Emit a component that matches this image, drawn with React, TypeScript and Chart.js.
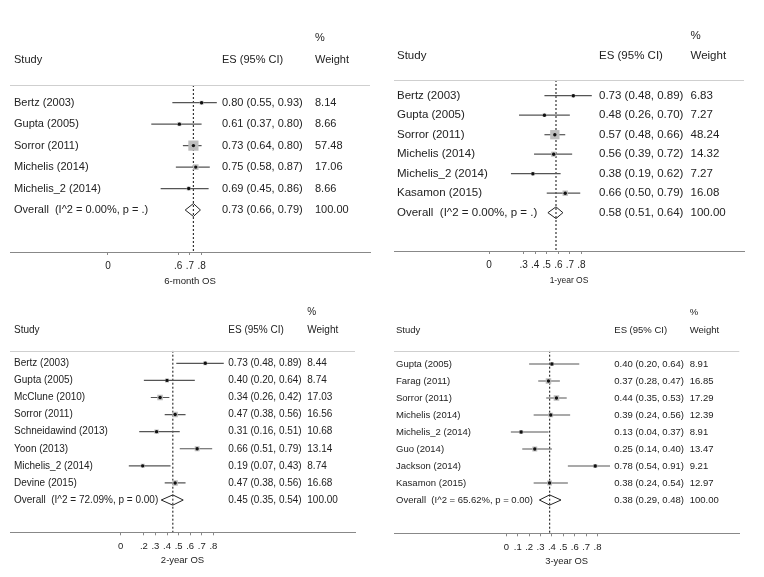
import React, { useEffect, useRef } from 'react';
import { Chart, registerables } from 'chart.js';

Chart.register(...registerables);

// ---------- 6-month OS ----------
const studies6m = ['Bertz (2003)', 'Gupta (2005)', 'Sorror (2011)', 'Michelis (2014)', 'Michelis_2 (2014)'];
const es6m = [0.8, 0.61, 0.73, 0.75, 0.69];
const lo6m = [0.55, 0.37, 0.64, 0.58, 0.45];
const hi6m = [0.93, 0.8, 0.8, 0.87, 0.86];
const wt6m = [8.14, 8.66, 57.48, 17.06, 8.66];
const overall6m = [0.73, 0.66, 0.79];
const overallLabel6m = 'Overall  (I^2 = 0.00%, p = .)';
const ticks6m = [0, 0.6, 0.7, 0.8];

// ---------- 1-year OS ----------
const studies1y = ['Bertz (2003)', 'Gupta (2005)', 'Sorror (2011)', 'Michelis (2014)', 'Michelis_2 (2014)', 'Kasamon (2015)'];
const es1y = [0.73, 0.48, 0.57, 0.56, 0.38, 0.66];
const lo1y = [0.48, 0.26, 0.48, 0.39, 0.19, 0.5];
const hi1y = [0.89, 0.7, 0.66, 0.72, 0.62, 0.79];
const wt1y = [6.83, 7.27, 48.24, 14.32, 7.27, 16.08];
const overall1y = [0.58, 0.51, 0.64];
const overallLabel1y = 'Overall  (I^2 = 0.00%, p = .)';
const ticks1y = [0, 0.3, 0.4, 0.5, 0.6, 0.7, 0.8];

// ---------- 2-year OS ----------
const studies2y = ['Bertz (2003)', 'Gupta (2005)', 'McClune (2010)', 'Sorror (2011)', 'Schneidawind (2013)', 'Yoon (2013)', 'Michelis_2 (2014)', 'Devine (2015)'];
const es2y = [0.73, 0.4, 0.34, 0.47, 0.31, 0.66, 0.19, 0.47];
const lo2y = [0.48, 0.2, 0.26, 0.38, 0.16, 0.51, 0.07, 0.38];
const hi2y = [0.89, 0.64, 0.42, 0.56, 0.51, 0.79, 0.43, 0.56];
const wt2y = [8.44, 8.74, 17.03, 16.56, 10.68, 13.14, 8.74, 16.68];
const overall2y = [0.45, 0.35, 0.54];
const overallLabel2y = 'Overall  (I^2 = 72.09%, p = 0.00)';
const ticks2y = [0, 0.2, 0.3, 0.4, 0.5, 0.6, 0.7, 0.8];

// ---------- 3-year OS ----------
const studies3y = ['Gupta (2005)', 'Farag (2011)', 'Sorror (2011)', 'Michelis (2014)', 'Michelis_2 (2014)', 'Guo (2014)', 'Jackson (2014)', 'Kasamon (2015)'];
const es3y = [0.4, 0.37, 0.44, 0.39, 0.13, 0.25, 0.78, 0.38];
const lo3y = [0.2, 0.28, 0.35, 0.24, 0.04, 0.14, 0.54, 0.24];
const hi3y = [0.64, 0.47, 0.53, 0.56, 0.37, 0.4, 0.91, 0.54];
const wt3y = [8.91, 16.85, 17.29, 12.39, 8.91, 13.47, 9.21, 12.97];
const overall3y = [0.38, 0.29, 0.48];
const overallLabel3y = 'Overall  (I^2 = 65.62%, p = 0.00)';
const ticks3y = [0, 0.1, 0.2, 0.3, 0.4, 0.5, 0.6, 0.7, 0.8];

const FONT = '"Liberation Sans", Arial, Helvetica, sans-serif';

type Layout = {
  left: number; top: number; w: number; h: number;
  axL: number; axR: number; x0: number; ppu: number;
  sep: number; row0: number; step: number; axisY: number;
  pctY: number; headY: number; colLabel: number; colES: number; colWt: number;
  font: number; tickFont: number; titleFont: number; tickY: number; titleY: number;
};

type PanelData = {
  title: string; studies: string[]; es: number[]; lo: number[]; hi: number[]; wt: number[];
  overall: number[]; overallLabel: string; ticks: number[];
};

const panels: { d: PanelData; L: Layout }[] = [
  {
    d: { title: '6-month OS', studies: studies6m, es: es6m, lo: lo6m, hi: hi6m, wt: wt6m, overall: overall6m, overallLabel: overallLabel6m, ticks: ticks6m },
    L: { left: 0, top: 0, w: 382, h: 288, axL: 10, axR: 370, x0: 108, ppu: 117, sep: 85, row0: 102.7, step: 21.46, axisY: 252,
      pctY: 38, headY: 60, colLabel: 14, colES: 222, colWt: 315, font: 11, tickFont: 10, titleFont: 9.6, tickY: 266, titleY: 281.7 },
  },
  {
    d: { title: '1-year OS', studies: studies1y, es: es1y, lo: lo1y, hi: hi1y, wt: wt1y, overall: overall1y, overallLabel: overallLabel1y, ticks: ticks1y },
    L: { left: 382, top: 0, w: 382, h: 288, axL: 12, axR: 362, x0: 107, ppu: 115.5, sep: 80, row0: 95.7, step: 19.5, axisY: 251,
      pctY: 36, headY: 55.7, colLabel: 15, colES: 217, colWt: 308.5, font: 11.5, tickFont: 10, titleFont: 8.5, tickY: 265.7, titleY: 280.5 },
  },
  {
    d: { title: '2-year OS', studies: studies2y, es: es2y, lo: lo2y, hi: hi2y, wt: wt2y, overall: overall2y, overallLabel: overallLabel2y, ticks: ticks2y },
    L: { left: 0, top: 288, w: 382, h: 289, axL: 10, axR: 355, x0: 120.7, ppu: 115.8, sep: 62.7, row0: 75.3, step: 17.09, axisY: 244.3,
      pctY: 24.7, headY: 42, colLabel: 14, colES: 228.3, colWt: 307.3, font: 10, tickFont: 9.5, titleFont: 9.5, tickY: 258.7, titleY: 272 },
  },
  {
    d: { title: '3-year OS', studies: studies3y, es: es3y, lo: lo3y, hi: hi3y, wt: wt3y, overall: overall3y, overallLabel: overallLabel3y, ticks: ticks3y },
    L: { left: 382, top: 288, w: 382, h: 289, axL: 12, axR: 357.3, x0: 124.3, ppu: 114, sep: 62.7, row0: 76, step: 17, axisY: 245.3,
      pctY: 24.7, headY: 42, colLabel: 14, colES: 232.3, colWt: 307.7, font: 9.5, tickFont: 9.5, titleFont: 9.4, tickY: 259.3, titleY: 273 },
  },
];

const fmtTick = (v: number) => (v === 0 ? '0' : String(v).replace(/^0/, ''));
const fmtCI = (e: number, l: number, h: number) => `${e.toFixed(2)} (${l.toFixed(2)}, ${h.toFixed(2)})`;

function ForestPanel({ d, L }: { d: PanelData; L: Layout }) {
  const ref = useRef<HTMLCanvasElement | null>(null);

  useEffect(() => {
    if (!ref.current) return;
    const n = d.studies.length;
    const yMin = (L.sep - L.row0) / L.step;
    const yMax = (L.axisY - L.row0) / L.step;
    const xMin = (L.axL - L.x0) / L.ppu;
    const xMax = (L.axR - L.x0) / L.ppu;
    const tickLen = 3;
    const tickPad = Math.max(0, L.tickY - L.axisY - tickLen - (L.tickFont * 1.2) / 2);
    const titlePadBottom = Math.max(0, L.h - L.titleY - (L.titleFont * 1.2) / 2);
    const [oEs, oLo, oHi] = d.overall;
    const dh = 0.3;

    const datasets: any[] = [];
    datasets.push({
      type: 'scatter',
      data: d.es.map((v, i) => ({ x: v, y: i })),
      pointStyle: 'circle',
      pointRadius: 1.7,
      backgroundColor: '#111',
      borderWidth: 0,
      order: 0,
    });
    datasets.push({
      type: 'scatter',
      data: d.es.map((v, i) => ({ x: v, y: i })),
      pointStyle: 'rect',
      pointRadius: d.wt.map((w) => 0.95 * Math.sqrt(w)),
      backgroundColor: '#bdbdbd',
      borderWidth: 0,
      order: 1,
    });
    d.studies.forEach((_, i) => {
      datasets.push({
        type: 'line',
        data: [{ x: d.lo[i], y: i }, { x: d.hi[i], y: i }],
        borderColor: '#555',
        borderWidth: 1.2,
        pointRadius: 0,
        fill: false,
        order: 2,
      });
    });
    datasets.push({
      type: 'line',
      data: [
        { x: oLo, y: n }, { x: oEs, y: n - dh }, { x: oHi, y: n }, { x: oEs, y: n + dh }, { x: oLo, y: n },
      ],
      borderColor: '#222',
      borderWidth: 1,
      pointRadius: 0,
      fill: false,
      tension: 0,
      order: 2,
    });
    datasets.push({
      type: 'line',
      data: [{ x: oEs, y: yMin }, { x: oEs, y: yMax }],
      borderColor: '#333',
      borderWidth: 1.2,
      borderDash: [2, 2],
      pointRadius: 0,
      fill: false,
      order: 3,
    });

    const textPlugin = {
      id: 'forestText',
      afterDraw(chart: any) {
        const ctx = chart.ctx as CanvasRenderingContext2D;
        const ys = chart.scales.y;
        const ca = chart.chartArea;
        ctx.save();
        ctx.strokeStyle = '#cfcfcf';
        ctx.lineWidth = 1;
        ctx.beginPath();
        ctx.moveTo(ca.left, Math.round(ca.top) + 0.5);
        ctx.lineTo(ca.right, Math.round(ca.top) + 0.5);
        ctx.stroke();
        ctx.fillStyle = '#222';
        ctx.textBaseline = 'middle';
        ctx.textAlign = 'left';
        ctx.font = `${L.font}px ${FONT}`;
        ctx.fillText('%', L.colWt, L.pctY);
        ctx.fillText('Study', L.colLabel, L.headY);
        ctx.fillText('ES (95% CI)', L.colES, L.headY);
        ctx.fillText('Weight', L.colWt, L.headY);
        d.studies.forEach((s, i) => {
          const y = ys.getPixelForValue(i);
          ctx.fillText(s, L.colLabel, y);
          ctx.fillText(fmtCI(d.es[i], d.lo[i], d.hi[i]), L.colES, y);
          ctx.fillText(d.wt[i].toFixed(2), L.colWt, y);
        });
        const yo = ys.getPixelForValue(n);
        ctx.fillText(d.overallLabel, L.colLabel, yo);
        ctx.fillText(fmtCI(oEs, oLo, oHi), L.colES, yo);
        ctx.fillText((100).toFixed(2), L.colWt, yo);
        ctx.restore();
      },
    };

    const chart = new Chart(ref.current, {
      type: 'scatter',
      data: { datasets },
      options: {
        animation: false,
        responsive: false,
        maintainAspectRatio: false,
        devicePixelRatio: 1,
        layout: { padding: { left: L.axL, right: L.w - L.axR, top: L.sep, bottom: 0 } },
        plugins: { legend: { display: false }, tooltip: { enabled: false } },
        scales: {
          x: {
            type: 'linear',
            position: 'bottom',
            min: xMin,
            max: xMax,
            afterBuildTicks: (s: any) => {
              s.ticks = d.ticks.map((v) => ({ value: v }));
            },
            afterFit: (s: any) => {
              s.height = L.h - L.axisY;
            },
            ticks: {
              autoSkip: false,
              maxRotation: 0,
              minRotation: 0,
              padding: tickPad,
              color: '#222',
              font: { family: FONT, size: L.tickFont },
              callback: (v: any) => fmtTick(Number(v)),
            },
            grid: { drawOnChartArea: false, drawTicks: true, tickLength: tickLen, color: '#888', lineWidth: 1 },
            border: { display: true, color: '#888', width: 1 },
            title: {
              display: true,
              text: d.title,
              color: '#222',
              font: { family: FONT, size: L.titleFont },
              padding: { top: 0, bottom: titlePadBottom },
            },
          },
          y: { type: 'linear', display: false, min: yMin, max: yMax, reverse: true },
        },
      } as any,
      plugins: [textPlugin],
    });
    return () => chart.destroy();
  }, [d, L]);

  return (
    <canvas
      ref={ref}
      width={L.w}
      height={L.h}
      style={{ position: 'absolute', left: L.left, top: L.top, width: L.w, height: L.h, display: 'block' }}
    />
  );
}

export default function App() {
  return (
    <div style={{ position: 'absolute', left: 0, top: 0, width: 764, height: 577, background: '#fff', overflow: 'hidden' }}>
      {panels.map((p, i) => (
        <ForestPanel key={i} d={p.d} L={p.L} />
      ))}
    </div>
  );
}
